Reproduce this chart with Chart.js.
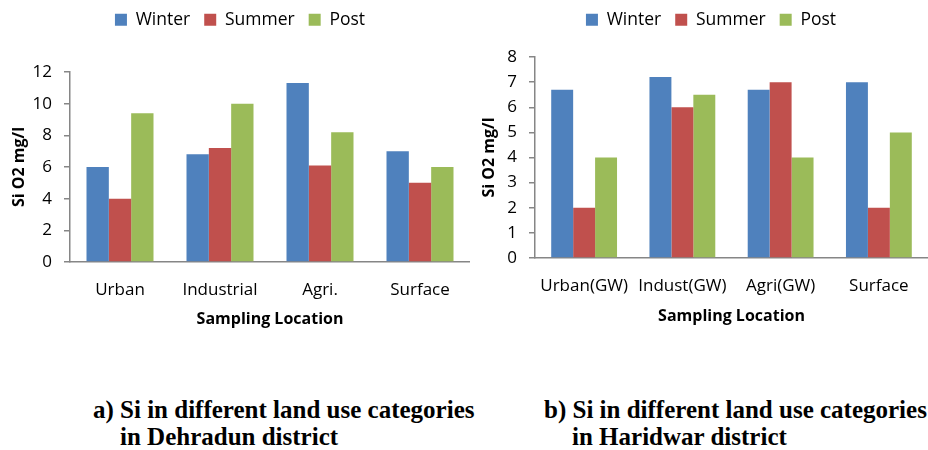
<!DOCTYPE html>
<html>
<head>
<meta charset="utf-8">
<script src="https://cdn.jsdelivr.net/npm/chart.js@4.4.1/dist/chart.umd.min.js"></script>
<style>
    html, body {
        margin: 0;
        padding: 0;
        background: #fff;
    }
    body {
        position: relative;
        width: 928px;
        height: 450px;
        overflow: hidden;
    }
    .panel {
        position: absolute;
        top: 0;
        height: 340px;
    }
    .caption {
        position: absolute;
        font-family: "Liberation Serif", "Times New Roman", serif;
        font-weight: bold;
        font-size: 25px;
        line-height: 27px;
        color: #000;
        white-space: nowrap;
    }
</style>
</head>
<body>
<div class="panel" style="left:0;width:470px"><canvas id="dehradun"></canvas></div>
<div class="panel" style="left:470px;width:458px"><canvas id="haridwar"></canvas></div>

<div class="caption" style="left:93px;top:396px">a) Si in different land use categories</div>
<div class="caption" style="left:120px;top:423px">in Dehradun district</div>
<div class="caption" style="left:544px;top:396px">b) Si in different land use categories</div>
<div class="caption" style="left:572px;top:423px">in Haridwar district</div>

<script>
const seasons = ["Winter", "Summer", "Post"];
const seasonColors = ["#4f81bd", "#c0504d", "#9bbb59"];

// Si O2 (mg/l), Dehradun district
const dehradunLocations = ["Urban", "Industrial", "Agri.", "Surface"];
const dehradunWinter = [6, 6.8, 11.3, 7];
const dehradunSummer = [4, 7.2, 6.1, 5];
const dehradunPost = [9.4, 10, 8.2, 6];
const dehradunMax = 12;
const dehradunStep = 2;

// Si O2 (mg/l), Haridwar district
const haridwarLocations = ["Urban(GW)", "Indust(GW)", "Agri(GW)", "Surface"];
const haridwarWinter = [6.7, 7.2, 6.7, 7];
const haridwarSummer = [2, 6, 7, 2];
const haridwarPost = [4, 6.5, 4, 5];
const haridwarMax = 8;
const haridwarStep = 1;

const FONT = "'Open Sans', 'Noto Sans', sans-serif";
const AXIS_GREY = "#868686";

Chart.defaults.font.family = FONT;
Chart.defaults.color = "#000";

function buildDatasets(series) {
    return series.map(function (values, i) {
        return {
            label: seasons[i],
            data: values,
            backgroundColor: seasonColors[i],
            borderWidth: 0,
            categoryPercentage: 0.67,
            barPercentage: 1.0,
        };
    });
}

function drawSiChart(id, labels, series, yMax, yStep, layout) {
    // taller legend box pushes the plot down; shift nudges it sideways
    const legendBox = {
        id: "legendBox",
        beforeInit: function (chart) {
            const fit = chart.legend.fit;
            chart.legend.fit = function () {
                fit.bind(chart.legend)();
                this.height = layout.legendHeight;
            };
        },
        afterUpdate: function (chart) {
            chart.legend.left += layout.legendShift;
            chart.legend.right += layout.legendShift;
            chart.legend.adjustHitBoxes();
        },
    };

    return new Chart(document.getElementById(id), {
        type: "bar",
        data: {
            labels: labels,
            datasets: buildDatasets(series),
        },
        plugins: [legendBox],
        options: {
            responsive: true,
            maintainAspectRatio: false,
            animation: false,
            layout: {
                padding: { top: -3, left: 0, right: 0, bottom: 0 },
            },
            plugins: {
                tooltip: { enabled: false },
                legend: {
                    position: "top",
                    labels: {
                        boxWidth: 12,
                        boxHeight: 12,
                        padding: 14,
                        color: "#000",
                        font: { size: 17.5 },
                    },
                },
            },
            scales: {
                x: {
                    grid: { display: false },
                    border: { display: true, color: AXIS_GREY, width: 1.5 },
                    ticks: {
                        padding: layout.xTickPadding,
                        color: "#000",
                        font: { size: 17 },
                        maxRotation: 0,
                        autoSkip: false,
                    },
                    title: {
                        display: true,
                        text: "Sampling Location",
                        color: "#000",
                        font: { size: 16, weight: "bold" },
                        padding: { top: 0, bottom: layout.xTitleBottom },
                    },
                    afterFit: function (scale) {
                        scale.height = layout.xHeight;
                    },
                },
                y: {
                    min: 0,
                    max: yMax,
                    grid: {
                        drawOnChartArea: false,
                        drawTicks: true,
                        tickLength: 6,
                        color: AXIS_GREY,
                        lineWidth: 1.5,
                    },
                    border: { display: true, color: AXIS_GREY, width: 1.5 },
                    ticks: {
                        stepSize: yStep,
                        padding: 12,
                        color: "#000",
                        font: { size: 17 },
                    },
                    title: {
                        display: true,
                        text: "Si O2 mg/l",
                        color: "#000",
                        font: { size: 16, weight: "bold" },
                        padding: { top: 10, bottom: 0 },
                    },
                    afterFit: function (scale) {
                        scale.width = layout.yWidth;
                    },
                },
            },
        },
    });
}

drawSiChart("dehradun", dehradunLocations, [dehradunWinter, dehradunSummer, dehradunPost], dehradunMax, dehradunStep, {
    legendHeight: 75,
    legendShift: 5,
    xHeight: 78,
    yWidth: 70,
    xTickPadding: 10,
    xTitleBottom: 11,
});

drawSiChart("haridwar", haridwarLocations, [haridwarWinter, haridwarSummer, haridwarPost], haridwarMax, haridwarStep, {
    legendHeight: 60,
    legendShift: 12,
    xHeight: 82,
    yWidth: 65,
    xTickPadding: 10,
    xTitleBottom: 14,
});
</script>
</body>
</html>
